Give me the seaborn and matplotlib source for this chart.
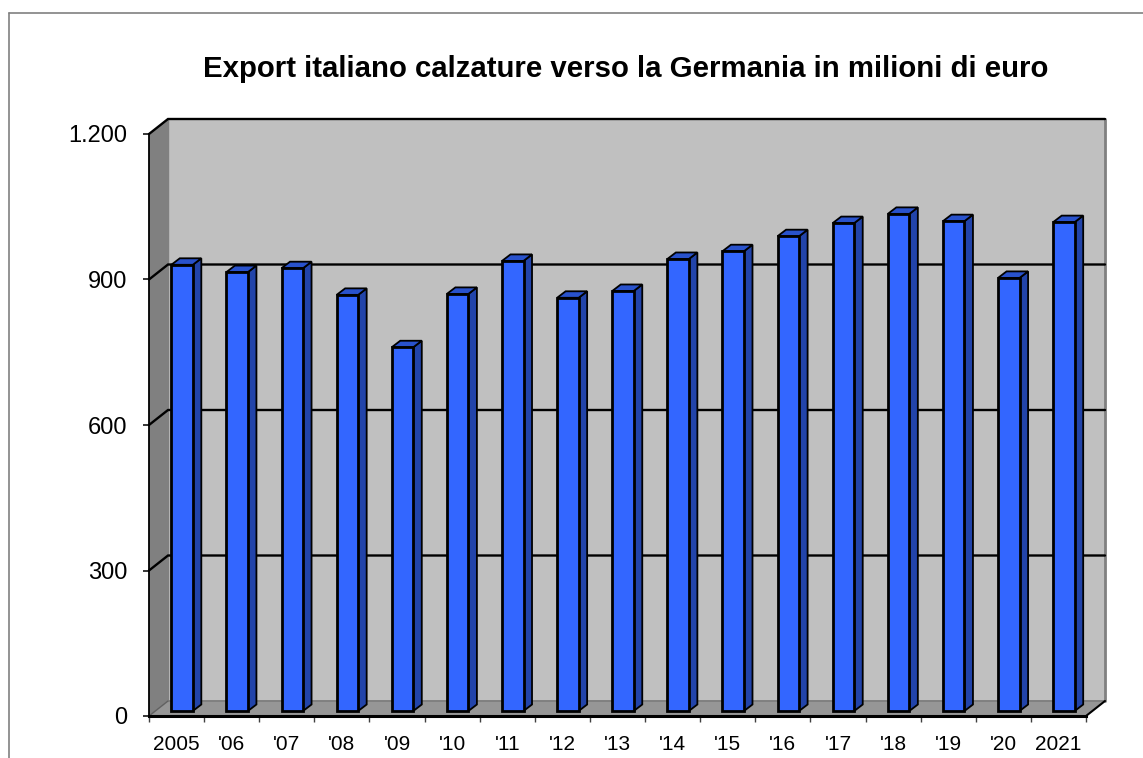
import matplotlib
matplotlib.use("Agg")
import matplotlib.pyplot as plt
from matplotlib.lines import Line2D
from matplotlib.patches import Polygon
from matplotlib.ticker import FixedLocator, FixedFormatter
import pandas as pd
import seaborn as sns

years = ["2005", "'06", "'07", "'08", "'09", "'10", "'11", "'12", "'13",
         "'14", "'15", "'16", "'17", "'18", "'19", "'20", "2021"]
values = [920, 905, 913, 858, 750, 860, 928, 852, 866,
          932, 948, 979, 1006, 1025, 1010, 893, 1008]
y_ticks = [0, 300, 600, 900, 1200]
y_labels = ["0", "300", "600", "900", "1.200"]
title = "Export italiano calzature verso la Germania in milioni di euro"

W, H = 1143, 758
sns.set_theme(style="white")
plt.rcParams["font.family"] = ["Liberation Sans", "DejaVu Sans"]

fig = plt.figure(figsize=(W / 100, H / 100), dpi=100)
L, R, T, B = 149, 1086, 134, 716
ax = fig.add_axes([L / W, 1 - B / H, (R - L) / W, (B - T) / H])
df = pd.DataFrame({"year": years, "value": values})
sns.barplot(data=df, x="year", y="value", order=years, color="#3366FF",
            saturation=1, width=21.5 / 55.1, edgecolor="black", linewidth=2.0,
            ax=ax, zorder=5)
ax.set_xlim(-0.5, len(years) - 0.5)
ax.set_ylim(0, 1200)
ax.set_xlabel("")
ax.set_ylabel("")

ux = (R - L) / len(years)      # px per category
uy = (B - T) / 1200            # px per value unit
x0, x1 = -0.5, len(years) - 0.5
DX, DY = 19 / ux, 15 / uy      # wall depth
bx, by = 5.5 / ux, 5 / uy      # bar front offset
sx, sy = 8.5 / ux, 6.5 / uy    # bar depth

def poly(pts, fc, z, ec="none", lw=0):
    ax.add_patch(Polygon(pts, closed=True, facecolor=fc, edgecolor=ec,
                         linewidth=lw, clip_on=False, zorder=z))

# walls and floor
poly([(x0 + DX, DY), (x1 + DX, DY), (x1 + DX, 1200 + DY), (x0 + DX, 1200 + DY)], "#C0C0C0", 1)
poly([(x0, 0), (x0, 1200), (x0 + DX, 1200 + DY), (x0 + DX, DY)], "#808080", 1)
poly([(x0, 0), (x1, 0), (x1 + DX, DY), (x0 + DX, DY)], "#969696", 1)

# right and floor edges of the back wall
ax.plot([x1 + DX, x1 + DX], [DY, 1200 + DY], color="#808080", lw=2.0, clip_on=False, zorder=2)
ax.plot([x0 + DX, x1 + DX], [DY, DY], color="#808080", lw=1.4, clip_on=False, zorder=2)
ax.plot([x0 + DX, x0 + DX], [DY, 1200 + DY], color="#808080", lw=1.0, clip_on=False, zorder=2)
ax.plot([x1, x1 + DX], [0, DY], color="black", lw=1.5, clip_on=False, zorder=2)
ax.plot([x0, x0 + DX], [0, DY], color="#606060", lw=1.0, clip_on=False, zorder=2)

# gridlines running over side wall and back wall
for v in y_ticks[1:]:
    ax.plot([x0, x0 + DX, x1 + DX], [v, v + DY, v + DY], color="black",
            lw=1.7, clip_on=False, zorder=3, solid_joinstyle="miter")

# bars: shift fronts into the floor, add side and top faces
for i, patch in enumerate(ax.patches[:len(years)]):
    cx = patch.get_x()
    w = patch.get_width()
    h = patch.get_height()
    patch.set_x(cx + bx)
    patch.set_y(by)
    patch.set_clip_on(False)
    r, l = cx + bx + w, cx + bx
    top = h + by
    poly([(r, by), (r + sx, by + sy), (r + sx, top + sy), (r, top)], "#2244AA", 4, "black", 1.3)
    poly([(l, top), (r, top), (r + sx, top + sy), (l + sx, top + sy)], "#2952CC", 4, "black", 1.3)

# axes decoration
for name in ("top", "right"):
    ax.spines[name].set_visible(False)
ax.spines["bottom"].set_color("black")
ax.spines["bottom"].set_linewidth(2.2)
ax.spines["bottom"].set_zorder(6)
ax.spines["left"].set_color("black")
ax.spines["left"].set_linewidth(1.3)
ax.patch.set_alpha(0)

ax.yaxis.set_major_locator(FixedLocator(y_ticks))
ax.yaxis.set_major_formatter(FixedFormatter(y_labels))
ax.tick_params(axis="y", which="major", left=True, length=4.4, width=1.1, color="black",
               labelsize=17, pad=11, labelcolor="black")
ax.xaxis.set_major_locator(FixedLocator([i - 0.5 for i in range(len(years) + 1)]))
ax.xaxis.set_major_formatter(FixedFormatter([""] * (len(years) + 1)))
ax.xaxis.set_minor_locator(FixedLocator(list(range(len(years)))))
ax.xaxis.set_minor_formatter(FixedFormatter(years))
ax.tick_params(axis="x", which="major", bottom=True, length=4.0, width=1.0, color="#404040")
ax.tick_params(axis="x", which="minor", bottom=False, length=0, labelsize=15, pad=14,
               labelcolor="black")

fig.text(626 / W, 1 - 69 / H, title, ha="center", va="center", fontsize=21.2,
         fontweight="bold", color="black")

# cropped chart frame
fig.add_artist(Line2D([9 / W, 9 / W], [0, 1 - 13 / H], color="#808080", lw=1.2))
fig.add_artist(Line2D([9 / W, 1], [1 - 13 / H, 1 - 13 / H], color="#808080", lw=1.2))

fig.savefig("out.png", dpi=100)
